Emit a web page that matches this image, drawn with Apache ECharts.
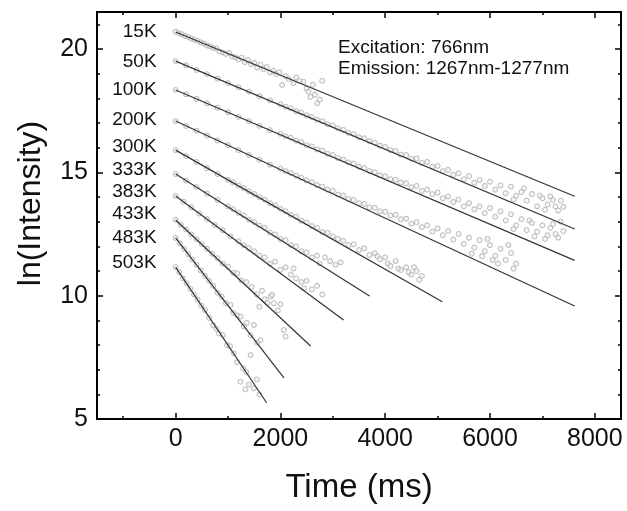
<!DOCTYPE html>
<html><head><meta charset="utf-8">
<script src="https://cdn.jsdelivr.net/npm/echarts@6/dist/echarts.min.js"></script>
<style>html,body{margin:0;padding:0;background:#fff}#c{width:627px;height:511px}</style>
</head><body><div id="c"></div>
<script>
// ---- data ----
const tempLabels = ['15K','50K','100K','200K','300K','333K','383K','433K','483K','503K'];
const fitStartTime = [0,0,0,0,0,0,0,0,0,0];
const fitStartValue = [20.69,19.51,18.34,17.08,15.90,14.93,14.04,13.07,12.34,11.16];
const fitEndTime = [7615,7615,7615,7615,5090,3702,3206,2576,2067,1737];
const fitEndValue = [14.03,12.70,11.43,9.58,9.75,9.99,9.01,7.96,6.67,5.66];
const xMajorTicks = [0,2000,4000,6000,8000];
const xMinorTicks = [-1000,1000,3000,5000,7000];

const s15K = [[0,20.70],[60,20.64],[120,20.60],[180,20.53],[240,20.49],[300,20.42],[360,20.38],[420,20.33],[480,20.27],[540,20.22],[600,20.14],[660,20.11],[720,20.04],[780,20.02],[840,19.90],[900,19.86],[960,19.80],[1020,19.84],[1080,19.70],[1140,19.66],[1200,19.58],[1260,19.65],[1320,19.47],[1380,19.55],[1440,19.38],[1500,19.44],[1560,19.25],[1620,19.36],[1680,19.18],[1740,19.27],[1800,19.05],[1860,19.12],[1920,18.98],[1980,19.06],[2034,18.54],[2100,18.90],[2160,18.78],[2250,18.62],[2300,18.85],[2360,18.70],[2440,18.67],[2500,18.40],[2538,18.27],[2574,18.06],[2620,18.55],[2660,18.15],[2702,17.80],[2750,17.95],[2797,18.71]];
const s50K = [[0,19.51],[200,19.34],[400,19.15],[600,18.98],[800,18.80],[1000,18.62],[1200,18.45],[1400,18.27],[1600,18.09],[1800,17.92],[2000,17.76],[2100,17.66],[2200,17.60],[2300,17.48],[2400,17.42],[2500,17.31],[2600,17.24],[2700,17.13],[2800,17.07],[2900,16.95],[3000,16.90],[3100,16.78],[3200,16.72],[3300,16.60],[3400,16.55],[3500,16.42],[3600,16.38],[3700,16.26],[3800,16.20],[3900,16.08],[4000,16.03],[4100,15.90],[4200,15.87],[4300,15.72],[4400,15.70],[4500,15.55],[4600,15.56],[4700,15.38],[4800,15.42],[4900,15.22],[5000,15.26],[5100,15.05],[5200,15.10],[5300,14.90],[5400,14.96],[5500,14.72],[5600,14.85],[5700,14.58],[5800,14.69],[5900,14.45],[6000,14.62],[6100,14.30],[6200,14.47],[6300,14.15],[6400,14.42],[6450,13.90],[6500,14.05],[6600,14.20],[6650,14.35],[6700,13.85],[6800,14.12],[6900,13.62],[6950,14.05],[7000,13.95],[7050,13.48],[7100,13.70],[7150,14.02],[7200,13.88],[7250,13.62],[7300,13.45],[7350,13.85],[7400,13.60]];
const s100K = [[0,18.34],[200,18.16],[400,17.98],[600,17.80],[800,17.62],[1000,17.44],[1200,17.25],[1400,17.07],[1600,16.89],[1800,16.71],[2000,16.56],[2100,16.46],[2200,16.40],[2300,16.28],[2400,16.22],[2500,16.10],[2600,16.05],[2700,15.93],[2800,15.88],[2900,15.75],[3000,15.70],[3100,15.58],[3200,15.52],[3300,15.40],[3400,15.35],[3500,15.22],[3600,15.17],[3700,15.05],[3800,15.00],[3900,14.88],[4000,14.84],[4100,14.72],[4200,14.70],[4300,14.58],[4400,14.55],[4500,14.40],[4600,14.45],[4700,14.25],[4800,14.30],[4900,14.12],[5000,14.18],[5100,13.95],[5200,14.02],[5300,13.80],[5400,13.90],[5500,13.62],[5600,13.75],[5700,13.50],[5800,13.62],[5900,13.35],[6000,13.55],[6100,13.20],[6200,13.42],[6300,13.05],[6400,13.30],[6450,12.70],[6500,12.85],[6600,13.10],[6700,12.66],[6750,13.05],[6800,12.95],[6850,12.40],[6900,12.60],[7000,12.85],[7050,12.30],[7100,12.45],[7150,12.75],[7200,12.90],[7250,12.50],[7300,12.35],[7350,13.00],[7400,12.62]];
const s200K = [[0,17.08],[200,16.88],[400,16.69],[600,16.49],[800,16.29],[1000,16.10],[1200,15.90],[1400,15.70],[1600,15.51],[1800,15.31],[2000,15.15],[2100,15.05],[2200,14.97],[2300,14.86],[2400,14.78],[2500,14.67],[2600,14.60],[2700,14.48],[2800,14.42],[2900,14.30],[3000,14.25],[3100,14.10],[3200,14.06],[3300,13.92],[3400,13.88],[3500,13.75],[3600,13.72],[3700,13.58],[3800,13.56],[3900,13.42],[4000,13.40],[4100,13.25],[4200,13.28],[4300,13.10],[4400,13.12],[4500,12.92],[4600,12.98],[4700,12.78],[4800,12.85],[4900,12.60],[5000,12.72],[5100,12.45],[5200,12.62],[5300,12.28],[5400,12.50],[5500,12.10],[5600,12.35],[5650,11.70],[5700,11.95],[5800,12.25],[5850,11.60],[5900,11.80],[5950,12.30],[6000,12.05],[6050,11.45],[6100,11.62],[6150,11.30],[6200,11.90],[6300,11.45],[6350,12.05],[6400,11.73],[6450,11.10],[6500,11.30]];
const s300K = [[0,15.90],[200,15.66],[400,15.42],[600,15.17],[800,14.93],[1000,14.70],[1100,14.59],[1200,14.47],[1300,14.36],[1400,14.23],[1500,14.12],[1600,13.99],[1700,13.89],[1800,13.75],[1900,13.66],[2000,13.52],[2100,13.42],[2200,13.28],[2300,13.20],[2400,13.04],[2500,12.97],[2600,12.82],[2700,12.75],[2800,12.58],[2900,12.55],[3000,12.40],[3100,12.30],[3200,12.22],[3300,12.05],[3400,12.08],[3500,11.85],[3600,11.92],[3700,11.65],[3800,11.72],[3850,11.60],[3900,11.48],[4000,11.55],[4050,11.30],[4100,11.20],[4200,11.40],[4250,11.10],[4300,11.04],[4400,11.15],[4450,10.95],[4500,10.85],[4550,11.15],[4600,11.00],[4650,10.65],[4700,10.80]];
const s333K = [[0,14.93],[200,14.67],[400,14.41],[600,14.14],[800,13.88],[1000,13.62],[1100,13.50],[1200,13.36],[1300,13.25],[1400,13.08],[1500,12.98],[1600,12.84],[1700,12.75],[1800,12.56],[1900,12.48],[2000,12.30],[2100,12.25],[2200,12.05],[2300,12.00],[2400,11.80],[2500,11.75],[2600,11.55],[2700,11.62],[2750,11.30],[2850,11.55],[2950,11.40],[3050,11.25],[3150,11.35]];
const s383K = [[0,14.04],[150,13.81],[300,13.58],[450,13.33],[600,13.11],[750,12.86],[900,12.65],[1050,12.40],[1200,12.20],[1300,12.05],[1400,11.92],[1500,11.80],[1600,11.62],[1700,11.55],[1800,11.30],[1900,11.38],[2000,11.05],[2100,11.15],[2200,10.85],[2250,11.10],[2300,10.70],[2400,10.55],[2450,10.30],[2500,10.60],[2600,10.25],[2700,10.40],[2800,10.05]];
const s433K = [[0,13.07],[100,12.88],[200,12.68],[300,12.48],[400,12.29],[500,12.09],[600,11.90],[700,11.70],[800,11.52],[900,11.30],[1000,11.18],[1100,10.92],[1176,10.91],[1250,10.62],[1350,10.55],[1450,10.35],[1550,10.05],[1600,9.55],[1650,10.20],[1700,9.85],[1750,9.70],[1811,9.96],[1843,10.03],[1875,9.69],[1950,9.40],[2000,9.65],[2065,8.61],[2097,8.34]];
const s483K = [[0,12.34],[80,12.12],[160,11.90],[240,11.68],[320,11.46],[400,11.25],[480,11.02],[560,10.80],[640,10.60],[720,10.40],[800,10.12],[880,9.96],[960,9.70],[1049,9.62],[1100,9.30],[1180,9.20],[1240,9.15],[1300,8.75],[1360,8.90],[1430,8.40],[1494,8.81],[1560,8.10],[1620,8.20]];
const s503K = [[0,11.16],[70,10.95],[140,10.70],[210,10.50],[280,10.28],[350,10.05],[420,9.85],[490,9.60],[560,9.42],[640,9.10],[720,8.80],[780,8.66],[826,8.47],[900,8.40],[985,8.00],[1040,7.95],[1112,7.66],[1170,7.30],[1240,6.51],[1290,7.05],[1330,6.20],[1350,6.90],[1400,6.40],[1430,7.59],[1494,6.24],[1550,6.60],[1600,6.00]];
const scatterSets = [s15K,s50K,s100K,s200K,s300K,s333K,s383K,s433K,s483K,s503K];

// ---- layout / style (not data) ----
const FONT = '"Liberation Sans", Arial, sans-serif';
const labelNudge = [0,1,0,-1,-3,-4,-4,-6,0,-4];

function xAxisDef(pos, ticks, len, withLabels) {
  return {
    type: 'value', gridIndex: 0, position: pos, min: -1500, max: 8500,
    axisLine: { show: true, onZero: false, lineStyle: { color: '#000', width: 2 } },
    axisTick: { show: true, inside: true, length: len, customValues: ticks, lineStyle: { color: '#000', width: 1.5 } },
    axisLabel: withLabels ? { show: true, customValues: ticks, formatter: v => String(v), fontSize: 25, color: '#111', fontFamily: FONT, margin: 8 } : { show: false },
    splitLine: { show: false },
    name: withLabels ? 'Time (ms)' : '',
    nameLocation: 'middle', nameGap: 52,
    nameTextStyle: { fontSize: 33, color: '#111', fontFamily: FONT }
  };
}
function yAxisDef(pos, withLabels) {
  return {
    type: 'value', gridIndex: 0, position: pos, min: 5, max: 21.5, interval: 5,
    axisLine: { show: true, onZero: false, lineStyle: { color: '#000', width: 2 } },
    axisTick: { show: true, inside: true, length: 6, lineStyle: { color: '#000', width: 1.5 } },
    minorTick: { show: true, splitNumber: 5, length: 3, lineStyle: { color: '#000', width: 1.5 } },
    axisLabel: withLabels ? { show: true, fontSize: 25, color: '#111', fontFamily: FONT, margin: 9, showMaxLabel: false } : { show: false },
    splitLine: { show: false }, minorSplitLine: { show: false },
    name: withLabels ? 'ln(Intensity)' : '',
    nameLocation: 'middle', nameGap: 50, nameRotate: 90,
    nameTextStyle: { fontSize: 32, color: '#111', fontFamily: FONT, padding: [0, 0, 0, 24] }
  };
}

const series = [];
scatterSets.forEach((d, i) => {
  series.push({
    type: 'scatter', name: tempLabels[i] + ' data', data: d, z: 2,
    symbol: 'circle', symbolSize: 5,
    itemStyle: { color: 'rgba(235,235,235,0.6)', borderColor: '#a9a9a9', borderWidth: 1 },
    silent: true
  });
});
tempLabels.forEach((t, i) => {
  series.push({
    type: 'line', name: t + ' fit', z: 3, silent: true,
    showSymbol: true, symbol: 'circle', symbolSize: 0,
    lineStyle: { color: '#333', width: 1.2 }, itemStyle: { color: '#333' },
    data: [
      { value: [fitStartTime[i], fitStartValue[i]],
        label: { show: true, formatter: t, position: 'left', distance: 19, offset: [0, labelNudge[i]],
                 fontSize: 19, color: '#111', fontFamily: FONT } },
      { value: [fitEndTime[i], fitEndValue[i]] }
    ]
  });
});

const chart = echarts.init(document.getElementById('c'), null, { renderer: 'canvas' });
chart.setOption({
  animation: false,
  backgroundColor: '#fff',
  grid: { left: 97, right: 6, top: 12, bottom: 92, containLabel: false },
  xAxis: [
    xAxisDef('bottom', xMajorTicks, 6, true),
    xAxisDef('bottom', xMinorTicks, 3, false),
    xAxisDef('top', xMajorTicks, 6, false),
    xAxisDef('top', xMinorTicks, 3, false)
  ],
  yAxis: [ yAxisDef('left', true), yAxisDef('right', false) ],
  graphic: [
    { type: 'text', left: 338, top: 38, style: { text: 'Excitation: 766nm', fontSize: 19, fill: '#111', fontFamily: FONT } },
    { type: 'text', left: 338, top: 59, style: { text: 'Emission: 1267nm-1277nm', fontSize: 19, fill: '#111', fontFamily: FONT } }
  ],
  series: series
});
</script></body></html>
